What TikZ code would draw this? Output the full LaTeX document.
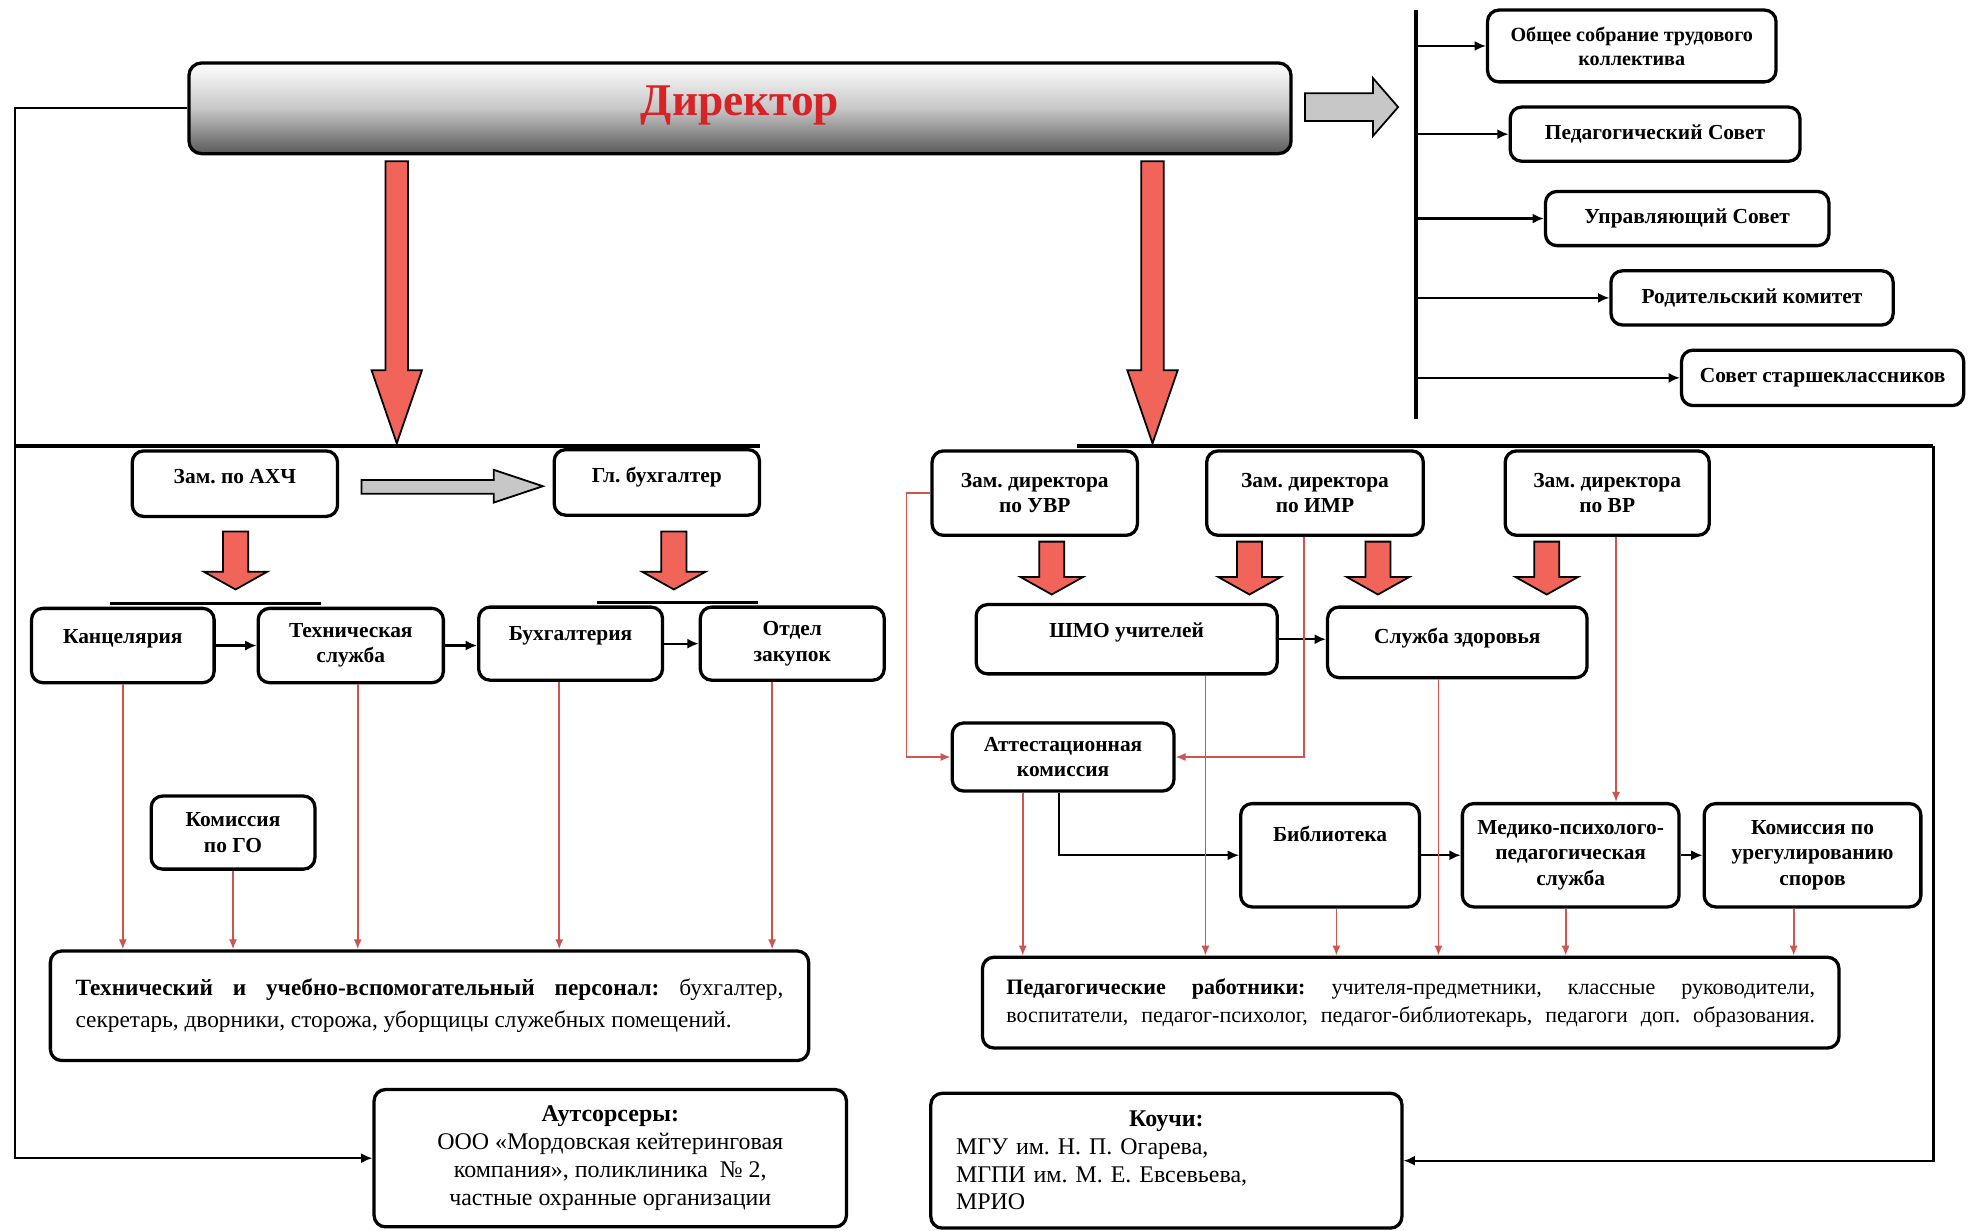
\documentclass[tikz,border=0pt]{standalone}
\usepackage{fontspec}
\setmainfont{Liberation Serif}
\usetikzlibrary{positioning,shapes,arrows.meta,calc}
\frenchspacing

\definecolor{arrowred}{RGB}{240,100,90}
\definecolor{linkred}{RGB}{205,85,80}
\definecolor{headred}{RGB}{215,35,40}

\begin{document}
\begin{tikzpicture}[x=1pt,y=-1pt,
    box/.style={draw, line width=2.6pt, rounded corners=9pt, fill=white, align=center,
      inner sep=0pt, font=\bfseries\fontsize{17}{20}\selectfont},
    lift/.style={text depth=#1},
    link/.style={-{Latex[length=9pt,width=8pt]}, line width=1.7pt},
    redlink/.style={-{Latex[length=8pt,width=6.5pt]}, line width=1.4pt, draw=linkred},
    bigarrow/.style={draw, line width=1.4pt, fill=arrowred},
    grayarrow/.style={draw, line width=1.4pt, fill=black!22},
    bar/.style={line width=3pt}]
  \useasboundingbox (0,0) rectangle (1568,977);

  % director and councils
  \node[draw, line width=2.6pt, rounded corners=10pt, top color=white, bottom color=black!65,
    middle color=black!22, minimum width=875pt, minimum height=72pt, lift=12pt,
    text=headred, font=\bfseries\fontsize{36}{40}\selectfont] (dir) at (587.5,86) {Директор};
  \node[box, minimum width=229pt, minimum height=57pt, font=\bfseries\fontsize{16}{19}\selectfont] (sobr) at (1295.5,36.5) {Общее собрание трудового\\коллектива};
  \node[box, minimum width=230pt, minimum height=43pt] (pedsov) at (1314,106.5) {Педагогический Совет};
  \node[box, minimum width=225pt, minimum height=43pt] (upsov) at (1339.5,173.5) {Управляющий Совет};
  \node[box, minimum width=224pt, minimum height=43pt] (rodkom) at (1391,236.5) {Родительский комитет};
  \node[box, minimum width=224pt, minimum height=44pt] (starsov) at (1447,300) {Совет старшеклассников};

  \coordinate (bartop) at (1124,8);
  \coordinate (barbot) at (1124,333);
  \draw[bar] (bartop) -- (barbot);
  \draw[link] (bartop |- sobr.west) -- (sobr.west);
  \draw[link] (bartop |- pedsov.west) -- (pedsov.west);
  \draw[link] (bartop |- upsov.west) -- (upsov.west);
  \draw[link] (bartop |- rodkom.west) -- (rodkom.west);
  \draw[link] (bartop |- starsov.west) -- (starsov.west);
  \draw[grayarrow] (1036,74) -- (1090,74) -- (1090,62) -- (1110,85) -- (1090,108) -- (1090,96) -- (1036,96) -- cycle;

  % big arrows down
  \draw[bigarrow] (306,128) -- (324,128) -- (324,294) -- (335,294) -- (315,352) -- (295,294) -- (306,294) -- cycle;
  \draw[bigarrow] (906,128) -- (924,128) -- (924,294) -- (935,294) -- (915,352) -- (895,294) -- (906,294) -- cycle;
  \coordinate (lcorner) at (12,354);
  \coordinate (rcorner) at (1535,354);
  \draw[bar] (lcorner) -- (603,354);
  \draw[bar] (855,354) -- (rcorner);

  % left part
  \node[box, minimum width=163pt, minimum height=52pt, lift=12pt] (zahch) at (186.5,384) {Зам. по АХЧ};
  \node[box, minimum width=163pt, minimum height=52pt, lift=12pt] (glbuh) at (521.5,383) {Гл. бухгалтер};
  \draw[grayarrow] (287,381) -- (392,381) -- (392,373) -- (431,386) -- (392,399) -- (392,392) -- (287,392) -- cycle;
  \draw[bigarrow] (177,422) -- (197,422) -- (197,454) -- (212,454) -- (187,468) -- (162,454) -- (177,454) -- cycle;
  \draw[bigarrow] (525,422) -- (545,422) -- (545,454) -- (560,454) -- (535,468) -- (510,454) -- (525,454) -- cycle;
  \draw[line width=2.5pt] (87,479) -- (255,479);
  \draw[line width=2.5pt] (474,478) -- (602,478);

  \node[box, minimum width=145pt, minimum height=59pt, lift=15pt] (kanc) at (97.5,512.5) {Канцелярия};
  \node[box, minimum width=147pt, minimum height=59pt] (tech) at (278.5,512.5) {Техническая\\служба};
  \node[box, minimum width=146pt, minimum height=58pt, lift=16pt] (buh) at (453,511) {Бухгалтерия};
  \node[box, minimum width=146pt, minimum height=58pt] (otdel) at (629,511) {Отдел\\закупок};
  \node[box, minimum width=130pt, minimum height=58pt] (gokom) at (185,661) {Комиссия\\по ГО};
  \draw[link] (kanc) -- (tech);
  \draw[link] (tech.east) -- (tech.east -| buh.west);
  \draw[link] (buh) -- (otdel);

  \node[box, minimum width=602pt, minimum height=87pt, align=left,
    font=\fontsize{18.5}{25}\selectfont] (tvp) at (341,798.5)
    {\makebox[562pt][s]{\textbf{Технический и учебно-вспомогательный персонал:} бухгалтер,}\\
     \makebox[562pt][l]{секретарь, дворники, сторожа, уборщицы служебных помещений.}};
  \draw[redlink] (kanc.south) -- (kanc.south |- tvp.north);
  \draw[redlink] (gokom.south) -- (gokom.south |- tvp.north);
  \draw[redlink] ([xshift=5.5pt]tech.south) -- ([xshift=5.5pt]tech.south |- tvp.north);
  \draw[redlink] ([xshift=-9pt]buh.south) -- ([xshift=-9pt]buh.south |- tvp.north);
  \draw[redlink] ([xshift=-16pt]otdel.south) -- ([xshift=-16pt]otdel.south |- tvp.north);

  \node[box, minimum width=375pt, minimum height=109pt, font=\fontsize{19}{22}\selectfont] (outs) at (484.5,919.5)
    {\textbf{Аутсорсеры:}\\ООО «Мордовская кейтеринговая\\компания», поликлиника~~№~2,\\частные охранные организации};
  \draw[link, line width=1.8pt] (dir.west) -| (lcorner) |- (outs.west);

  % right part
  \node[box, minimum width=163pt, minimum height=67pt] (uvr) at (821.5,391.5) {Зам. директора\\по УВР};
  \node[box, minimum width=172pt, minimum height=67pt] (imr) at (1044,391.5) {Зам. директора\\по ИМР};
  \node[box, minimum width=162pt, minimum height=67pt] (vr) at (1276,391.5) {Зам. директора\\по ВР};
  \draw[bigarrow] (825,430) -- (845,430) -- (845,458) -- (860,458) -- (835,472) -- (810,458) -- (825,458) -- cycle;
  \draw[bigarrow] (982,430) -- (1002,430) -- (1002,458) -- (1017,458) -- (992,472) -- (967,458) -- (982,458) -- cycle;
  \draw[bigarrow] (1084,430) -- (1104,430) -- (1104,458) -- (1119,458) -- (1094,472) -- (1069,458) -- (1084,458) -- cycle;
  \draw[bigarrow] (1218,430) -- (1238,430) -- (1238,458) -- (1253,458) -- (1228,472) -- (1203,458) -- (1218,458) -- cycle;

  \node[box, minimum width=239pt, minimum height=55pt, lift=15pt] (shmo) at (894.5,507.5) {ШМО учителей};
  \node[box, minimum width=206pt, minimum height=56pt, lift=10pt] (zdor) at (1157,510) {Служба здоровья};
  \node[box, minimum width=176pt, minimum height=54pt] (att) at (844,601) {Аттестационная\\комиссия};
  \node[box, minimum width=142pt, minimum height=82pt, lift=34pt] (bib) at (1056,679) {Библиотека};
  \node[box, minimum width=172pt, minimum height=82pt] (med) at (1247,679) {Медико-психолого-\\педагогическая\\служба};
  \node[box, minimum width=172pt, minimum height=82pt] (kom) at (1439,679) {Комиссия по\\урегулированию\\споров};
  \draw[link] (shmo.east) -- (shmo.east -| zdor.west);
  \draw[redlink] (uvr.west) -- ++(-19,0) |- (att.west);
  \draw[redlink] ([xshift=-9pt]imr.south) |- (att.east);
  \draw[redlink] ([xshift=7pt]vr.south) -- ([xshift=7pt]vr.south |- med.north);
  \draw[link] ([xshift=-3pt]att.south) |- (bib.west);
  \draw[link] (bib) -- (med);
  \draw[link] (med) -- (kom);

  \node[box, minimum width=680pt, minimum height=72pt, align=left,
    font=\fontsize{17.5}{22}\selectfont] (pedr) at (1120,796)
    {\makebox[642pt][s]{\textbf{Педагогические работники:} учителя-предметники, классные руководители,}\\
     \makebox[642pt][s]{воспитатели, педагог-психолог, педагог-библиотекарь, педагоги доп. образования.}};
  \draw[redlink] ([xshift=-32pt]att.south) -- ([xshift=-32pt]att.south |- pedr.north);
  \draw[redlink] ([xshift=62.5pt]shmo.south) -- ([xshift=62.5pt]shmo.south |- pedr.north);
  \draw[redlink] ([xshift=5pt]bib.south) -- ([xshift=5pt]bib.south |- pedr.north);
  \draw[redlink] ([xshift=-15pt]zdor.south) -- ([xshift=-15pt]zdor.south |- pedr.north);
  \draw[redlink] ([xshift=-4pt]med.south) -- ([xshift=-4pt]med.south |- pedr.north);
  \draw[redlink] ([xshift=-15pt]kom.south) -- ([xshift=-15pt]kom.south |- pedr.north);

  \node[box, minimum width=374pt, minimum height=107pt, text width=334pt, align=left,
    font=\fontsize{19}{22}\selectfont] (coach) at (926,921.5)
    {\hfill\textbf{Коучи:}\hfill\null\\МГУ им. Н. П. Огарева,\\МГПИ им. М. Е. Евсевьева,\\МРИО};
  \draw[link, line width=1.8pt] (rcorner) |- (coach.east);
\end{tikzpicture}
\end{document}
